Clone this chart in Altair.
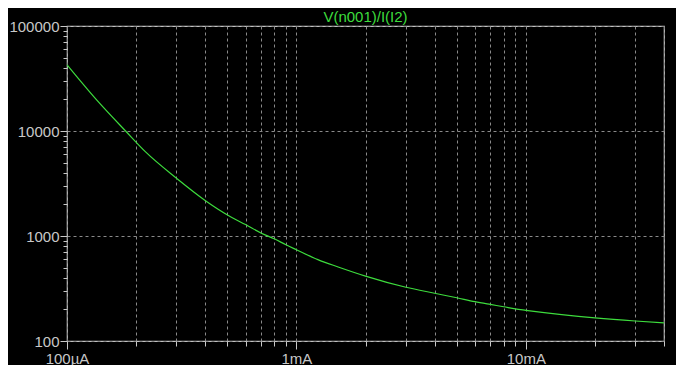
import altair as alt
import pandas as pd

# Swept current I(I2) in amperes and the ratio V(n001)/I(I2)
CURRENT_A = [1.0e-4, 1.34e-4, 1.8e-4, 2.2e-4, 3.0e-4, 4.0e-4, 5.23e-4, 6.0e-4,
             7.0e-4, 8.05e-4, 9.0e-4, 1.0e-3, 1.24e-3, 1.52e-3, 2.0e-3, 3.0e-3,
             4.0e-3, 5.0e-3, 6.0e-3, 7.0e-3, 8.0e-3, 9.0e-3, 1.0e-2, 2.0e-2,
             3.0e-2, 4.0e-2]
RATIO = [42660, 20000, 10000, 6320, 3550, 2180, 1500, 1285,
         1070, 935, 825, 740, 595, 507, 415, 325,
         285, 258, 237, 223, 212, 202, 196, 166,
         155, 149]

TITLE = ["V(n001)/I(I2)"]

X_MAJOR = [0.0001, 0.001, 0.01]
X_LABELS = ["100µA", "1mA", "10mA"]
X_MINOR = [0.0002, 0.0003, 0.0004, 0.0005, 0.0006, 0.0007, 0.0008, 0.0009,
           0.002, 0.003, 0.004, 0.005, 0.006, 0.007, 0.008, 0.009,
           0.02, 0.03, 0.04]
X_DOMAIN = [0.0001, 0.04]

Y_MAJOR = [100, 1000, 10000, 100000]
Y_MINOR = [200, 300, 400, 500, 600, 700, 800, 900,
           2000, 3000, 4000, 5000, 6000, 7000, 8000, 9000,
           20000, 30000, 40000, 50000, 60000, 70000, 80000, 90000]
Y_DOMAIN = [100, 100000]

GREEN = "#3ddc3d"
LABEL_GRAY = "#c8c8c8"
GRID_GRAY = "#8a8a8a"
FRAME_GRAY = "#c0c0c0"
FONT = "Liberation Sans"
FS = 15

W, H = 597, 315

df = pd.DataFrame({"i": CURRENT_A, "r": RATIO})
title_df = pd.DataFrame({"t": TITLE})

# label expression for the x major ticks built from the label list
x_expr = "''"
for v, lab in reversed(list(zip(X_MAJOR, X_LABELS))):
    x_expr = f"abs(log(datum.value) - log({v})) < 0.01 ? '{lab}' : ({x_expr})"

x_scale = alt.Scale(type="log", domain=X_DOMAIN, nice=False)
y_scale = alt.Scale(type="log", domain=Y_DOMAIN, nice=False)

minor = alt.Chart(df).mark_line(color=GREEN, strokeWidth=1.2, interpolate="monotone", clip=True).encode(
    x=alt.X("i:Q", scale=x_scale, title=None,
            axis=alt.Axis(orient="bottom", values=X_MINOR, labels=False, domain=False,
                          tickSize=5, tickColor=LABEL_GRAY, tickWidth=1,
                          grid=True, gridColor=GRID_GRAY, gridDash=[3, 3], gridWidth=1)),
    y=alt.Y("r:Q", scale=y_scale, title=None,
            axis=alt.Axis(orient="left", values=Y_MINOR, labels=False, domain=False,
                          tickSize=4, tickColor=LABEL_GRAY, tickWidth=1, grid=False)),
)

major = alt.Chart(df).mark_line(opacity=0).encode(
    x=alt.X("i:Q", scale=x_scale, title=None,
            axis=alt.Axis(orient="bottom", values=X_MAJOR, labelExpr=x_expr, domain=False,
                          tickSize=8, tickColor=LABEL_GRAY, tickWidth=1,
                          labelColor=LABEL_GRAY, labelFont=FONT, labelFontSize=FS,
                          labelPadding=2, labelFlush=False, labelOverlap=False, labelBound=False,
                          grid=True, gridColor=GRID_GRAY, gridDash=[3, 3], gridWidth=1)),
    y=alt.Y("r:Q", scale=y_scale, title=None,
            axis=alt.Axis(orient="left", values=Y_MAJOR, format="d", domain=False,
                          tickSize=7, tickColor=LABEL_GRAY, tickWidth=1,
                          labelColor=LABEL_GRAY, labelFont=FONT, labelFontSize=FS,
                          labelPadding=1, labelFlush=False, labelOverlap=False,
                          grid=True, gridColor=GRID_GRAY, gridDash=[3, 3], gridWidth=1)),
)

title = alt.Chart(title_df).mark_text(
    color=GREEN, font=FONT, fontSize=FS, align="center", baseline="alphabetic"
).encode(
    text="t:N",
    x=alt.value(W / 2),
    y=alt.value(-4),
)

chart = alt.layer(major, minor, title).resolve_axis(
    x="independent", y="independent"
).properties(
    width=W,
    height=H,
    autosize=alt.AutoSizeParams(type="none"),
    padding={"left": 59, "top": 18, "right": 12, "bottom": 24},
    background="#000000",
).configure_view(
    stroke=FRAME_GRAY, strokeWidth=1.2
)

chart.save("out.html", embed_options={"renderer": "svg", "actions": False})
